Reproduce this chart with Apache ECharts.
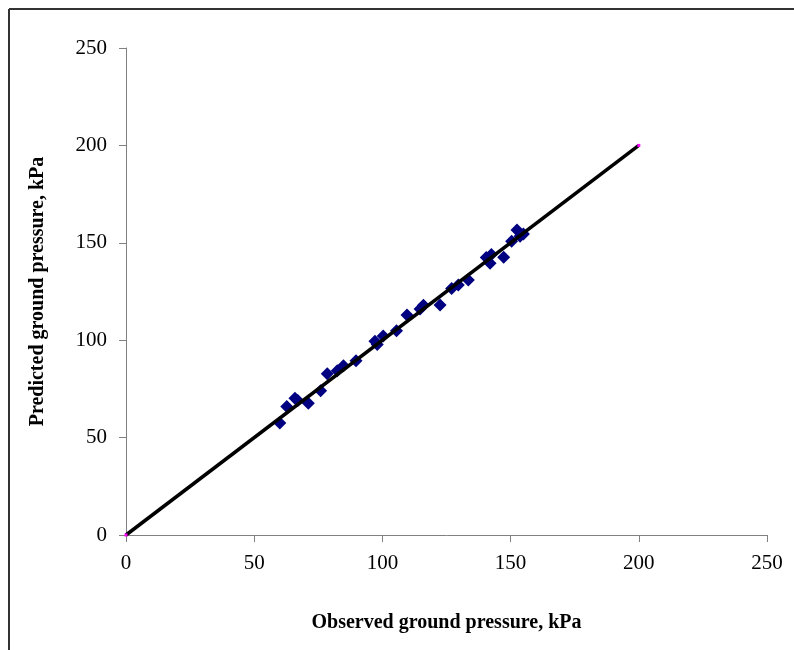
<!DOCTYPE html>
<html>
<head>
<meta charset="utf-8">
<script src="https://cdn.jsdelivr.net/npm/echarts@6/dist/echarts.min.js"></script>
<style>html,body{margin:0;padding:0;background:#fff}#c{width:794px;height:650px}</style>
</head>
<body>
<div id="c"></div>
<script>
const observed = [60, 62.7, 65.9, 67, 71.1, 75.9, 78.5, 82.4, 84.8, 89.7, 97.1, 98, 100.3, 105.5, 109.6, 114.7, 116, 122.5, 127, 129.6, 133.5, 140.5, 142, 142.5, 147.3, 150.4, 152.5, 153.7, 155];
const predicted = [57.5, 66, 70.2, 69, 67.6, 74.1, 82.8, 84.3, 86.9, 89.5, 99.5, 97.8, 102.2, 104.9, 112.9, 116, 118, 118.1, 126.6, 128.3, 130.9, 142.5, 139.5, 144, 142.6, 150.8, 156.6, 153.3, 154.5];
const lineX = [0, 200];
const lineY = [0, 200];
const axisTicks = [0, 50, 100, 150, 200, 250];

const chart = echarts.init(document.getElementById('c'));
const font = 'Liberation Serif, Times New Roman, serif';
chart.setOption({
  animation: false,
  backgroundColor: '#fff',
  grid: {left: 126, right: 27, top: 48, bottom: 115},
  xAxis: {
    type: 'value', min: axisTicks[0], max: axisTicks[axisTicks.length - 1], interval: 50,
    name: 'Observed ground pressure, kPa', nameLocation: 'middle', nameGap: 78,
    nameTextStyle: {fontFamily: font, fontSize: 20, fontWeight: 'bold', color: '#000'},
    axisLine: {show: true, onZero: false, lineStyle: {color: '#808080', width: 1}},
    axisTick: {show: true, length: 7, inside: false, lineStyle: {color: '#808080'}},
    axisLabel: {fontFamily: font, fontSize: 21, color: '#000', margin: 18},
    splitLine: {show: false}
  },
  yAxis: {
    type: 'value', min: axisTicks[0], max: axisTicks[axisTicks.length - 1], interval: 50,
    name: 'Predicted ground pressure, kPa', nameLocation: 'middle', nameGap: 78,
    nameTextStyle: {fontFamily: font, fontSize: 20, fontWeight: 'bold', color: '#000'},
    axisLine: {show: true, onZero: false, lineStyle: {color: '#808080', width: 1}},
    axisTick: {show: true, length: 7, inside: false, lineStyle: {color: '#808080'}},
    axisLabel: {fontFamily: font, fontSize: 21, color: '#000', margin: 19},
    splitLine: {show: false}
  },
  series: [
    {
      type: 'scatter',
      data: observed.map((v, i) => [v, predicted[i]]),
      symbol: 'diamond', symbolSize: 13,
      itemStyle: {color: '#000080', opacity: 1},
      z: 2
    },
    {
      type: 'line',
      data: lineX.map((v, i) => [v, lineY[i]]),
      symbol: 'rect', symbolSize: 3, showSymbol: true,
      itemStyle: {color: '#ff00ff'},
      lineStyle: {color: '#000', width: 3.5},
      z: 3
    }
  ],
  graphic: [
    {type: 'line', shape: {x1: 9, y1: 9, x2: 794, y2: 9}, style: {stroke: '#333', lineWidth: 2}},
    {type: 'line', shape: {x1: 9, y1: 9, x2: 9, y2: 650}, style: {stroke: '#333', lineWidth: 2}}
  ]
});
</script>
</body>
</html>
